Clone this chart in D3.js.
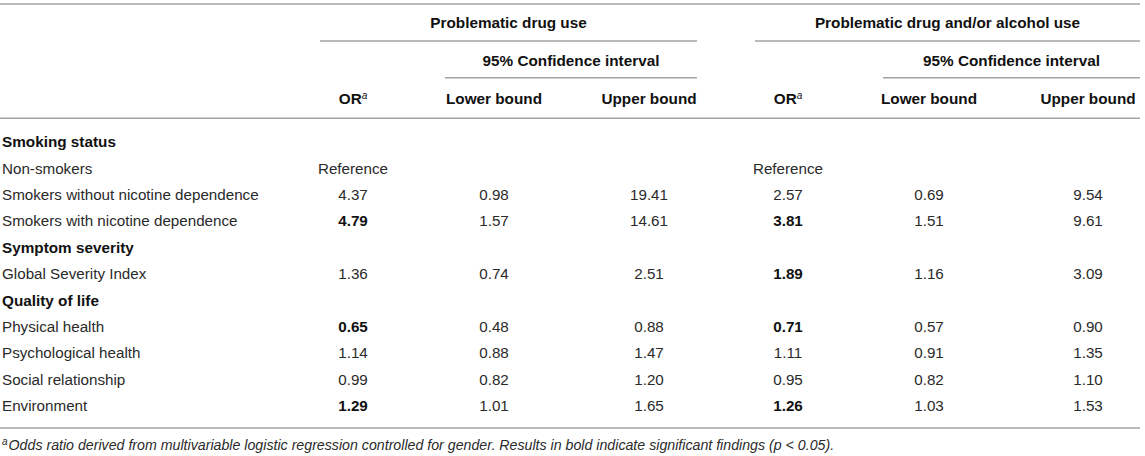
<!DOCTYPE html>
<html>
<head>
<meta charset="utf-8">
<script src="https://cdn.jsdelivr.net/npm/d3@7"></script>
<style>
  html, body { margin: 0; padding: 0; background: #fff; }
  svg { display: block; }
  text { font-family: "Liberation Sans", Arial, Helvetica, sans-serif; fill: #2a2a2a; }
  text.b, tspan.b { fill: #111; }
</style>
</head>
<body>
<svg id="chart" width="1145" height="456"></svg>
<script>
// ---- data ----
const groupTitles = ["Problematic drug use", "Problematic drug and/or alcohol use"];
const ciTitle = "95% Confidence interval";
const columnHeaders = ["OR", "Lower bound", "Upper bound", "OR", "Lower bound", "Upper bound"];
const columnKeys = ["drugOR", "drugLower", "drugUpper", "alcOR", "alcLower", "alcUpper"];
const rowLabels = [
  "Smoking status", "Non-smokers", "Smokers without nicotine dependence",
  "Smokers with nicotine dependence", "Symptom severity", "Global Severity Index",
  "Quality of life", "Physical health", "Psychological health",
  "Social relationship", "Environment"
];
const sectionRows = ["Smoking status", "Symptom severity", "Quality of life"];
const drugOR    = [null, "Reference", 4.37, 4.79, null, 1.36, null, 0.65, 1.14, 0.99, 1.29];
const drugLower = [null, null, 0.98, 1.57, null, 0.74, null, 0.48, 0.88, 0.82, 1.01];
const drugUpper = [null, null, 19.41, 14.61, null, 2.51, null, 0.88, 1.47, 1.20, 1.65];
const alcOR     = [null, "Reference", 2.57, 3.81, null, 1.89, null, 0.71, 1.11, 0.95, 1.26];
const alcLower  = [null, null, 0.69, 1.51, null, 1.16, null, 0.57, 0.91, 0.82, 1.03];
const alcUpper  = [null, null, 9.54, 9.61, null, 3.09, null, 0.90, 1.35, 1.10, 1.53];
const drugSignificant = ["Smokers with nicotine dependence", "Physical health", "Environment"];
const alcSignificant  = ["Smokers with nicotine dependence", "Global Severity Index", "Physical health", "Environment"];
const footnoteMark = "a";
const footnoteText = "Odds ratio derived from multivariable logistic regression controlled for gender. Results in bold indicate significant findings (p < 0.05).";

// ---- build ----
const columns = { drugOR, drugLower, drugUpper, alcOR, alcLower, alcUpper };
const boldSets = {
  drugOR: new Set(drugSignificant),
  alcOR: new Set(alcSignificant)
};

const svg = d3.select("#chart");
const W = 1140;
const lineColor = "#a3a3a3";
const FS = 15.2, FB = 15.3;

const x = d3.scaleOrdinal().domain(columnKeys).range([353, 494, 649, 788, 929, 1088]);
const y = d3.scalePoint().domain(d3.range(rowLabels.length)).range([147.2, 411.2]);

function hline(x1, x2, yy) {
  svg.append("line").attr("x1", x1).attr("x2", x2).attr("y1", yy).attr("y2", yy)
    .attr("stroke", lineColor).attr("stroke-width", 1.5);
}

// rules
hline(0, W, 4);
hline(320, 697, 41);
hline(755, W, 41);
hline(445, 697, 77.7);
hline(883, W, 77.7);
hline(0, W, 118.3);
hline(0, W, 428);

// group titles
const groupCenters = [(320 + 697) / 2, (755 + W) / 2];
svg.selectAll("text.group").data(groupTitles).join("text")
  .attr("class", "group b")
  .attr("x", (d, i) => groupCenters[i]).attr("y", 27.5)
  .attr("text-anchor", "middle").attr("font-weight", "bold").attr("font-size", FB)
  .text(d => d);

const ciCenters = [(445 + 697) / 2, (883 + W) / 2];
svg.selectAll("text.ci").data(ciCenters).join("text")
  .attr("class", "ci b")
  .attr("x", d => d).attr("y", 65.5)
  .attr("text-anchor", "middle").attr("font-weight", "bold").attr("font-size", FB)
  .text(ciTitle);

// column headers
const hdr = svg.selectAll("text.hdr").data(columnKeys).join("text")
  .attr("class", "hdr b")
  .attr("x", d => x(d)).attr("y", 103.5)
  .attr("text-anchor", "middle").attr("font-weight", "bold").attr("font-size", FB);
hdr.each(function (d, i) {
  const t = d3.select(this);
  t.append("tspan").text(columnHeaders[i]);
  if (columnHeaders[i] === "OR") {
    t.append("tspan").text(footnoteMark)
      .attr("font-size", 10).attr("font-style", "italic").attr("font-weight", "normal")
      .attr("dy", -5);
  }
});

// row labels
svg.selectAll("text.rowlabel").data(rowLabels).join("text")
  .attr("class", d => sectionRows.includes(d) ? "rowlabel b" : "rowlabel")
  .attr("x", 2).attr("y", (d, i) => y(i))
  .attr("font-size", d => sectionRows.includes(d) ? FB : FS)
  .attr("font-weight", d => sectionRows.includes(d) ? "bold" : "normal")
  .text(d => d);

// cells
const cells = [];
columnKeys.forEach(k => {
  columns[k].forEach((v, i) => {
    if (v === null) return;
    cells.push({
      key: k, row: i, value: v,
      bold: boldSets[k] ? boldSets[k].has(rowLabels[i]) : false
    });
  });
});
svg.selectAll("text.cell").data(cells).join("text")
  .attr("class", d => d.bold ? "cell b" : "cell")
  .attr("x", d => x(d.key)).attr("y", d => y(d.row))
  .attr("text-anchor", "middle").attr("font-size", FS)
  .attr("font-weight", d => d.bold ? "bold" : "normal")
  .text(d => typeof d.value === "number" ? d.value.toFixed(2) : d.value);

// footnote
const fn = svg.append("text").attr("x", 2).attr("y", 449.5)
  .attr("font-size", 14.2).attr("font-style", "italic");
fn.append("tspan").text(footnoteMark).attr("font-size", 10).attr("dy", -5);
fn.append("tspan").text(footnoteText).attr("dy", 5).attr("dx", 1);
</script>
</body>
</html>
